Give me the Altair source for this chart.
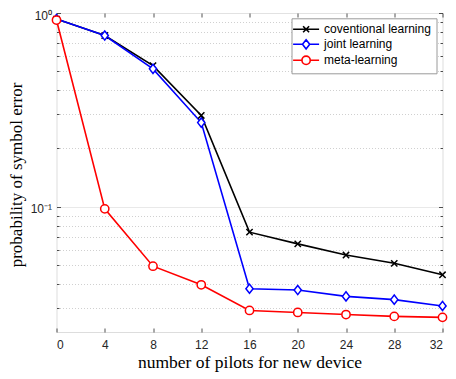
import altair as alt
import pandas as pd

pilots = [0, 4, 8, 12, 16, 20, 24, 28, 32]
conventional = [0.93, 0.765, 0.535, 0.296, 0.074, 0.0644, 0.0564, 0.0511, 0.0446]
joint = [0.93, 0.765, 0.515, 0.272, 0.0378, 0.0372, 0.0345, 0.0332, 0.0308]
meta = [0.92, 0.0976, 0.0494, 0.0396, 0.0292, 0.0285, 0.0278, 0.0272, 0.0269]
series_names = ["coventional learning", "joint learning", "meta-learning"]
series_colors = ["#000000", "#0000ff", "#ff0000"]
x_ticks = [0, 4, 8, 12, 16, 20, 24, 28, 32]
y_ticks = [0.03, 0.04, 0.05, 0.06, 0.07, 0.08, 0.09, 0.1,
           0.2, 0.3, 0.4, 0.5, 0.6, 0.7, 0.8, 0.9, 1.0]

rows = []
for name, vals in zip(series_names, [conventional, joint, meta]):
    for xv, yv in zip(pilots, vals):
        rows.append({"pilots": xv, "pse": yv, "series": name})
df = pd.DataFrame(rows)

W, H = 386, 319
AXC = "#262626"
major = "datum.value == 1 || abs(datum.value - 0.1) < 1e-9"

xs = alt.Scale(domain=[0, 32], nice=False, zero=False)
ys = alt.Scale(type="log", domain=[0.0226, 1], nice=False)

# plot-marker shapes (unit box -1..1)
plot_shapes = [
    "M-0.7,-0.7L0.7,0.7M-0.7,0.7L0.7,-0.7",
    "M0,-1.02L0.8,0L0,1.02L-0.8,0Z",
    "M-0.92,0A0.92,0.92 0 1,0 0.92,0A0.92,0.92 0 1,0 -0.92,0Z",
]
# legend shapes: line + marker
legend_shapes = [
    "M-2.6,0H2.6M-0.6,-0.6L0.6,0.6M-0.6,0.6L0.6,-0.6",
    "M-2.6,0H-0.72M0.72,0H2.6M0,-0.92L0.72,0L0,0.92L-0.72,0Z",
    "M-2.6,0H-0.83M0.83,0H2.6M-0.83,0A0.83,0.83 0 1,0 0.83,0A0.83,0.83 0 1,0 -0.83,0Z",
]

col_scale = alt.Scale(domain=series_names, range=series_colors)

base = alt.Chart(df)

lines = base.mark_line(strokeWidth=1.6).encode(
    x=alt.X("pilots:Q", scale=xs, axis=alt.Axis(
        orient="bottom", values=x_ticks, ticks=False, domain=False, grid=False,
        labelFont="Liberation Sans", labelFontSize=12, labelColor=AXC, labelPadding=7,
        title="number of pilots for new device", titleFont="Liberation Serif",
        titleFontSize=17.5, titleFontWeight="normal", titleColor="#000000",
        titleX=W / 2, titleY=35.5, titleBaseline="alphabetic")),
    y=alt.Y("pse:Q", scale=ys, axis=alt.Axis(
        orient="left", values=y_ticks, ticks=False, domain=False, grid=True,
        labelExpr="datum.value == 1 ? '10⁰' : (abs(datum.value - 0.1) < 1e-9 ? '10⁻¹' : '')",
        labelOverlap=False, labelFont="Liberation Sans", labelFontSize=12,
        labelColor=AXC, labelPadding=5, labelOffset=2,
        gridColor={"condition": {"test": major, "value": "#e3e3e3"}, "value": "#c4c4c4"},
        gridDash={"condition": {"test": major, "value": []}, "value": [1, 2]},
        gridWidth=0.8,
        title="probability of symbol error", titleFont="Liberation Serif",
        titleFontSize=17, titleFontWeight="normal", titleColor="#000000",
        titleX=-35, titleY=H / 2 + 2, titleBaseline="alphabetic")),
    color=alt.Color("series:N", scale=col_scale, legend=None),
    detail="series:N",
)

points = base.mark_point(filled=False, fill="white", strokeWidth=1.5, size=81, opacity=1).encode(
    x=alt.X("pilots:Q", scale=xs, axis=None),
    y=alt.Y("pse:Q", scale=ys, axis=None),
    color=alt.Color("series:N", scale=col_scale, legend=None),
    shape=alt.Shape("series:N", scale=alt.Scale(domain=series_names, range=plot_shapes), legend=None),
)

tick_y = {"condition": {"test": major, "value": 4}, "value": 2.5}

ticks_a = base.mark_line(strokeOpacity=0).encode(
    x=alt.X("pilots:Q", scale=xs, axis=alt.Axis(
        orient="top", offset=-H, values=x_ticks, labels=False, domain=False, grid=False,
        ticks=True, tickSize=4, tickColor=AXC, tickWidth=0.8, title=None)),
    y=alt.Y("pse:Q", scale=ys, axis=alt.Axis(
        orient="right", offset=-W, values=y_ticks, labels=False, domain=False, grid=False,
        ticks=True, tickSize=tick_y, tickColor=AXC, tickWidth=0.8, title=None)),
    detail="series:N",
)

ticks_b = base.mark_line(strokeOpacity=0).encode(
    x=alt.X("pilots:Q", scale=xs, axis=alt.Axis(
        orient="bottom", offset=-H, values=x_ticks, labels=False, domain=False, grid=False,
        ticks=True, tickSize=4, tickColor=AXC, tickWidth=0.8, title=None)),
    y=alt.Y("pse:Q", scale=ys, axis=alt.Axis(
        orient="left", offset=-W, values=y_ticks, labels=False, domain=False, grid=False,
        ticks=True, tickSize=tick_y, tickColor=AXC, tickWidth=0.8, title=None)),
    detail="series:N",
)

leg = alt.Legend(
    title=None, orient="none", legendX=235, legendY=5.3,
    labelFont="Liberation Sans", labelFontSize=12, labelColor="#000000",
    padding=5, rowPadding=0, symbolOffset=3.6, labelOffset=12,
    symbolSize=100, symbolStrokeWidth=1.6, symbolOpacity=1,
    strokeColor="#9a9a9a", fillColor="#ffffff", cornerRadius=0,
)

legend_layer = base.mark_point(filled=False, strokeWidth=1.6, size=100, opacity=0).encode(
    x=alt.X("pilots:Q", scale=xs, axis=None),
    y=alt.Y("pse:Q", scale=ys, axis=None),
    color=alt.Color("series:N", scale=col_scale, legend=leg),
    shape=alt.Shape("series:N", scale=alt.Scale(domain=series_names, range=legend_shapes), legend=leg),
)

chart = alt.layer(lines, points, ticks_a, ticks_b, legend_layer).resolve_axis(
    x="independent", y="independent"
).resolve_scale(
    color="independent", shape="independent"
).properties(
    width=W, height=H,
    autosize=alt.AutoSizeParams(type="none"),
    padding={"left": 48.5, "top": 5, "right": 5, "bottom": 40},
).configure_view(stroke="#555555", strokeWidth=0.9).configure(background="white")

chart.save("out.html", embed_options={"renderer": "svg", "actions": False})
